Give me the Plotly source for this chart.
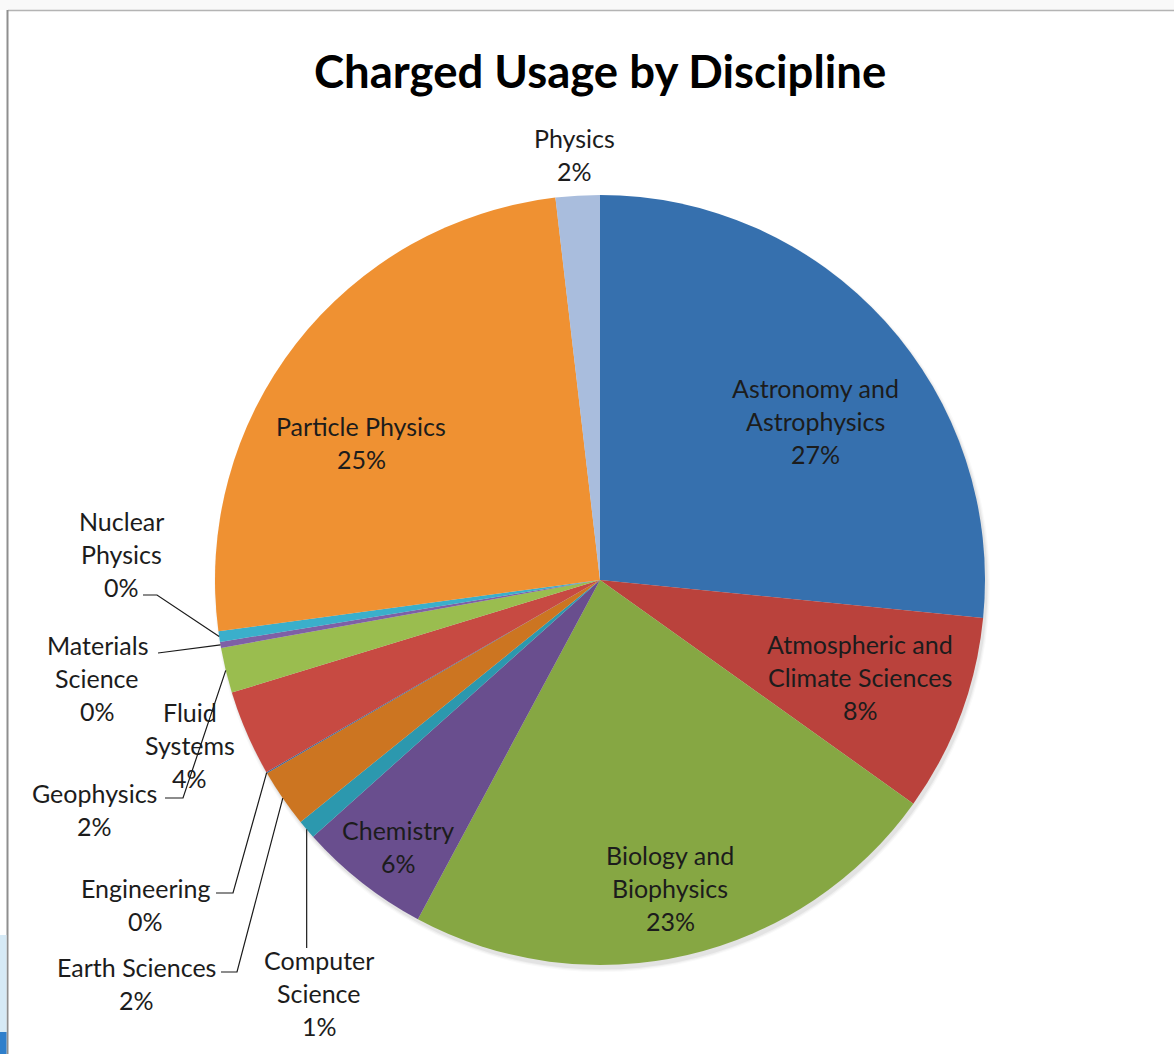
import math
import plotly.graph_objects as go

# ---------------- data ----------------
categories = [
    "Astronomy and Astrophysics", "Atmospheric and Climate Sciences",
    "Biology and Biophysics", "Chemistry", "Computer Science",
    "Earth Sciences", "Engineering", "Fluid Systems", "Geophysics",
    "Materials Science", "Nuclear Physics", "Particle Physics", "Physics",
]
usage_pct = [26.6, 8.3, 23.0, 5.55, 0.8, 2.45, 0.05, 3.6, 1.9, 0.25, 0.45, 25.3, 1.85]
slice_colors = [
    "#3670AE", "#BA423C", "#86A743", "#694E8E", "#2C98AE", "#CC7521",
    "#3D6596", "#C74A42", "#9ABD4F", "#7E60A6", "#3AAFCB", "#EF9132", "#A9BDDD",
]
title_text = "Charged Usage by Discipline"

# ---------------- layout helpers ----------------
W, H = 1174, 1054
CX, CY, R = 600, 580, 385
LINE = 33  # label line spacing (px)


def X(px):
    return px / W


def Y(py):
    return 1 - py / H


wrap = {
    "Astronomy and Astrophysics": ["Astronomy and", "Astrophysics"],
    "Atmospheric and Climate Sciences": ["Atmospheric and", "Climate Sciences"],
    "Biology and Biophysics": ["Biology and", "Biophysics"],
    "Computer Science": ["Computer", "Science"],
    "Fluid Systems": ["Fluid", "Systems"],
    "Materials Science": ["Materials", "Science"],
    "Nuclear Physics": ["Nuclear", "Physics"],
}
# label first-line centre (px) and leader start points (px)
label_pos = {
    "Physics": (574, 138),
    "Astronomy and Astrophysics": (815, 388),
    "Atmospheric and Climate Sciences": (860, 644),
    "Biology and Biophysics": (670, 855),
    "Chemistry": (398, 830),
    "Computer Science": (319, 960),
    "Earth Sciences": (136, 967),
    "Engineering": (145, 888),
    "Geophysics": (95, 793),
    "Fluid Systems": (190, 712),
    "Materials Science": (97, 645),
    "Nuclear Physics": (121, 521),
    "Particle Physics": (361, 426),
}
leader_start = {
    "Computer Science": "vertical",
    "Earth Sciences": [(221, 972), (237, 972)],
    "Engineering": [(216, 893), (233, 893)],
    "Geophysics": [(165, 798), (183, 798)],
    "Materials Science": [(158, 653)],
    "Nuclear Physics": [(143, 595), (157, 595)],
}

total = sum(usage_pct)

fig = go.Figure()
fig.add_trace(go.Pie(
    labels=categories,
    values=usage_pct,
    sort=False,
    direction="clockwise",
    rotation=0,
    marker=dict(colors=slice_colors, line=dict(width=0)),
    textinfo="none",
    hoverinfo="label+percent",
    showlegend=False,
    domain=dict(x=[X(CX - R), X(CX + R)], y=[Y(CY + R), Y(CY - R)]),
))

annotations = []
shapes = []

# frame + window edge
shapes.append(dict(type="rect", xref="paper", yref="paper", x0=0, x1=1, y0=Y(10), y1=1,
                   fillcolor="#F9F9F9", line=dict(width=0)))
shapes.append(dict(type="line", xref="paper", yref="paper", x0=X(8), x1=X(W), y0=Y(10.5), y1=Y(10.5),
                   line=dict(color="#B4B4B4", width=1.5)))
shapes.append(dict(type="line", xref="paper", yref="paper", x0=X(7.5), x1=X(7.5), y0=Y(10), y1=0,
                   line=dict(color="#8F8F8F", width=2)))
shapes.append(dict(type="rect", xref="paper", yref="paper", x0=0, x1=X(6.5), y0=Y(1032), y1=Y(935),
                   fillcolor="#D6EAF6", line=dict(width=0)))
shapes.append(dict(type="rect", xref="paper", yref="paper", x0=0, x1=X(6.5), y0=0, y1=Y(1032),
                   fillcolor="#2F7FCB", line=dict(width=0)))

# soft shadow under pie
for k, op in enumerate([0.025, 0.035, 0.05]):
    rr = R + 3 - k * 1.2
    sx, sy = CX + 2, CY + 4
    shapes.append(dict(type="circle", xref="paper", yref="paper", layer="below",
                       x0=X(sx - rr), x1=X(sx + rr), y0=Y(sy + rr), y1=Y(sy - rr),
                       fillcolor=f"rgba(0,0,0,{op})", line=dict(width=0)))

# labels and leader lines computed from data
cum = 0.0
for name, v in zip(categories, usage_pct):
    frac = v / total
    mid = (cum + frac / 2) * 2 * math.pi
    cum += frac
    rim = (CX + R * math.sin(mid), CY - R * math.cos(mid))
    pct = round(frac * 100)
    lines = wrap.get(name, [name]) + [f"{pct}%"]
    lx, ly = label_pos[name]
    for k, t in enumerate(lines):
        annotations.append(dict(
            x=X(lx), y=Y(ly + k * LINE), xref="paper", yref="paper",
            text=t, showarrow=False, xanchor="center", yanchor="middle",
            font=dict(family="Lato", size=25, color="#1C1C1C"),
        ))
    if name in leader_start:
        st = leader_start[name]
        if st == "vertical":
            pts = [(rim[0], 948), rim]
        else:
            pts = list(st) + [rim]
        path = "M " + " L ".join(f"{X(px):.5f},{Y(py):.5f}" for px, py in pts)
        shapes.append(dict(type="path", xref="paper", yref="paper", path=path,
                           line=dict(color="#1A1A1A", width=1.2)))

annotations.append(dict(
    x=X(600), y=Y(70), xref="paper", yref="paper", text=f"<b>{title_text}</b>",
    showarrow=False, xanchor="center", yanchor="middle",
    font=dict(family="Lato", size=45.5, color="#000000"),
))

fig.update_layout(
    width=W, height=H,
    margin=dict(l=0, r=0, t=0, b=0),
    paper_bgcolor="white", plot_bgcolor="white",
    annotations=annotations, shapes=shapes,
)

fig.write_html("out.html")
